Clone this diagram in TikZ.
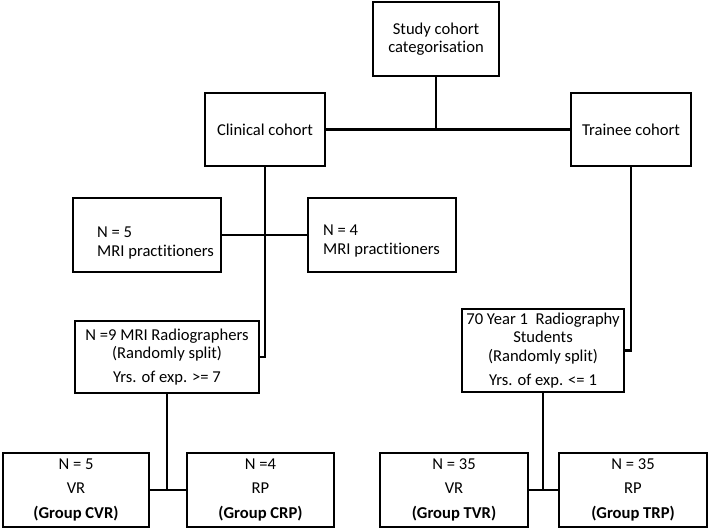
\documentclass[tikz,border=0pt]{standalone}
\usepackage{fontspec}
\setmainfont[Ligatures=NoCommon]{Carlito}
\begin{document}
\begin{tikzpicture}[x=1pt,y=-1pt,
  box/.style={draw, line width=2.4pt, inner sep=0pt, align=center,
    font=\fontsize{16.6}{18.3}\selectfont},
  lbl/.style={inner sep=0pt, align=left, anchor=west,
    font=\fontsize{16.6}{19}\selectfont},
  conn/.style={line width=2.4pt}]
\useasboundingbox (0,0) rectangle (709,529);
% boxes
\node[box, minimum width=126pt, minimum height=74pt] (study) at (436,39) {Study cohort\\categorisation};
\node[box, minimum width=120pt, minimum height=73pt] (clinical) at (265,129.5) {Clinical cohort};
\node[box, minimum width=120pt, minimum height=73pt] (trainee) at (631,129.5) {Trainee cohort};
\node[box, minimum width=148pt, minimum height=74pt] (n5) at (147,235) {};
\node[lbl] (n5t) at (97,243) {N = 5\\MRI practitioners};
\node[box, minimum width=148pt, minimum height=74pt] (n4) at (382,235) {};
\node[lbl] (n4t) at (323,241) {N = 4\\MRI practitioners};
\node[box, minimum width=184pt, minimum height=72pt] (n9) at (167,357) {N =9 MRI Radiographers\\(Randomly split)\\[6pt]Yrs. of exp. >= 7};
\node[box, minimum width=162pt, minimum height=83pt] (n70) at (543,350.5) {70 Year 1\ \ Radiography\\Students\\(Randomly split)\\[6pt]Yrs. of exp. <= 1};
\node[box, minimum width=146pt, minimum height=74pt] (cvr) at (76,490) {N = 5\\[6pt]VR\\[7pt]\textbf{(Group CVR)}};
\node[box, minimum width=147pt, minimum height=74pt] (crp) at (260.5,490) {N =4\\[6pt]RP\\[7pt]\textbf{(Group CRP)}};
\node[box, minimum width=148pt, minimum height=74pt] (tvr) at (454,490) {N = 35\\[6pt]VR\\[7pt]\textbf{(Group TVR)}};
\node[box, minimum width=148pt, minimum height=74pt] (trp) at (633,490) {N = 35\\[6pt]RP\\[7pt]\textbf{(Group TRP)}};
% connectors
\draw[conn] (clinical.east) -- (trainee.west);
\draw[conn] (study.south) -- (study.south |- clinical.east);
\draw[conn] (n5.east) -- (n4.west);
\draw[conn] (clinical.south) |- (n9.east);
\draw[conn] (trainee.south) |- (n70.east);
\draw[conn] (cvr.east) -- (crp.west);
\draw[conn] (n9.south) -- (n9.south |- cvr.east);
\draw[conn] (tvr.east) -- (trp.west);
\draw[conn] (n70.south) -- (n70.south |- tvr.east);
\end{tikzpicture}
\end{document}
